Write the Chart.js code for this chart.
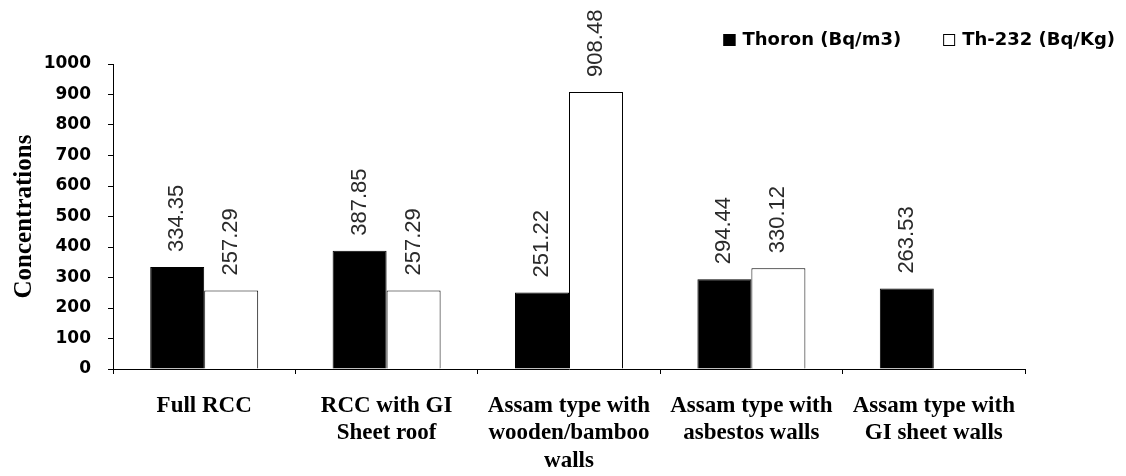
<!DOCTYPE html>
<html>
<head>
<meta charset="utf-8">
<script src="https://cdn.jsdelivr.net/npm/chart.js@4.4.1/dist/chart.umd.min.js"></script>
<style>
  html, body { margin: 0; padding: 0; background: #fff; }
  #wrap { width: 1126px; height: 476px; position: relative; }
</style>
</head>
<body>
<div id="wrap"><canvas id="c" width="1126" height="476"></canvas></div>
<script>
// Dwelling types (multi-line category labels)
const categories = [
  ['Full RCC'],
  ['RCC with GI', 'Sheet roof'],
  ['Assam type with', 'wooden/bamboo', 'walls'],
  ['Assam type with', 'asbestos walls'],
  ['Assam type with', 'GI sheet walls']
];
const thoronValues = [334.35, 387.85, 251.22, 294.44, 263.53];
const th232Values  = [257.29, 257.29, 908.48, 330.12, null];
const seriesNames  = ['Thoron (Bq/m3)', 'Th-232 (Bq/Kg)'];
const yTicks       = [0, 100, 200, 300, 400, 500, 600, 700, 800, 900, 1000];

// Rotated value labels above each bar
const valueLabels = {
  id: 'valueLabels',
  afterDatasetsDraw(chart) {
    const ctx = chart.ctx;
    ctx.save();
    ctx.font = '22px "Liberation Sans", Arial, sans-serif';
    ctx.fillStyle = '#2a2a2a';
    ctx.textAlign = 'left';
    ctx.textBaseline = 'middle';
    chart.data.datasets.forEach((ds, di) => {
      const meta = chart.getDatasetMeta(di);
      meta.data.forEach((bar, i) => {
        const v = ds.data[i];
        if (v === null || v === undefined) return;
        ctx.save();
        ctx.translate(bar.x, bar.y - 15);
        ctx.rotate(-Math.PI / 2);
        ctx.fillText(v.toFixed(2), 0, 0);
        ctx.restore();
      });
    });
    ctx.restore();
  }
};

// Legend in the top-right corner, laid out right to left
const cornerLegend = {
  id: 'cornerLegend',
  afterDraw(chart) {
    const ctx = chart.ctx;
    ctx.save();
    ctx.font = 'bold 18px "DejaVu Sans", Verdana, sans-serif';
    ctx.textBaseline = 'middle';
    ctx.textAlign = 'left';
    const cy = 40, box = 12, gapBox = 7, gapItem = 42;
    let right = 1115;
    const items = chart.data.datasets.map(d => d).reverse();
    items.forEach(ds => {
      const w = ctx.measureText(ds.label).width;
      const tx = right - w;
      ctx.fillStyle = '#000';
      ctx.fillText(ds.label, tx, cy);
      const bx = tx - gapBox - box;
      ctx.fillStyle = ds.backgroundColor;
      ctx.fillRect(bx, cy - box / 2, box, box);
      ctx.strokeStyle = '#000';
      ctx.lineWidth = 1;
      ctx.strokeRect(bx + 0.5, cy - box / 2 + 0.5, box - 1, box - 1);
      right = bx - gapItem;
    });
    ctx.restore();
  }
};

new Chart(document.getElementById('c'), {
  type: 'bar',
  data: {
    labels: categories,
    datasets: [
      { label: seriesNames[0], data: thoronValues, backgroundColor: '#000000', borderColor: '#000000', borderWidth: 1 },
      { label: seriesNames[1], data: th232Values, backgroundColor: '#ffffff', borderColor: '#000000', borderWidth: 1 }
    ]
  },
  options: {
    responsive: false,
    animation: false,
    devicePixelRatio: 1,
    layout: { padding: { top: 64, right: 101, bottom: 0, left: 0 } },
    datasets: { bar: { categoryPercentage: 0.592, barPercentage: 1.0 } },
    plugins: { legend: { display: false }, tooltip: { enabled: false } },
    scales: {
      x: {
        grid: { display: true, drawOnChartArea: false, drawTicks: true, tickLength: 5, color: '#000', offset: true },
        border: { display: true, color: '#000', width: 1 },
        ticks: {
          autoSkip: false, maxRotation: 0, minRotation: 0, padding: 18,
          color: '#000',
          font: { family: '"Liberation Serif", "Times New Roman", serif', size: 23, weight: 'bold', lineHeight: 1.2 }
        },
        afterFit(s) { s.height = 107; }
      },
      y: {
        min: 0, max: 1000,
        afterBuildTicks(s) { s.ticks = yTicks.map(v => ({ value: v })); },
        grid: { display: true, drawOnChartArea: false, drawTicks: true, tickLength: 5, color: '#000' },
        border: { display: true, color: '#000', width: 1 },
        ticks: {
          padding: 17, color: '#000',
          callback: v => String(v),
          font: { family: '"DejaVu Sans", Verdana, sans-serif', size: 17, weight: 'bold' }
        },
        title: {
          display: true, text: 'Concentrations', color: '#000',
          padding: { top: 10, bottom: 0 },
          font: { family: '"Liberation Serif", "Times New Roman", serif', size: 25, weight: 'bold' }
        },
        afterFit(s) { s.width = 113; }
      }
    }
  },
  plugins: [valueLabels, cornerLegend]
});
</script>
</body>
</html>
